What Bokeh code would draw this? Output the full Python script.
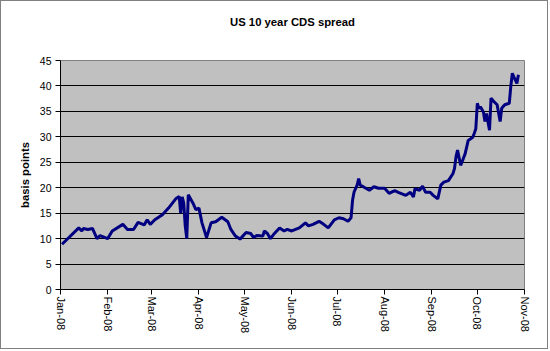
import math
import pandas as pd
from bokeh.plotting import figure
from bokeh.models import FixedTicker, Range1d, Title
from bokeh.embed import file_html
from bokeh.resources import INLINE

dates = [
    "2008-01-02", "2008-01-13", "2008-01-15", "2008-01-16", "2008-01-19", "2008-01-22",
    "2008-01-25", "2008-01-27", "2008-02-01", "2008-02-04", "2008-02-11", "2008-02-14",
    "2008-02-18", "2008-02-21", "2008-02-25", "2008-02-27", "2008-02-29", "2008-03-03",
    "2008-03-08", "2008-03-12", "2008-03-17", "2008-03-19", "2008-03-20", "2008-03-21",
    "2008-03-22", "2008-03-23", "2008-03-24", "2008-03-25", "2008-03-28", "2008-03-30",
    "2008-04-01", "2008-04-03", "2008-04-06", "2008-04-09", "2008-04-12", "2008-04-16",
    "2008-04-20", "2008-04-22", "2008-04-25", "2008-04-28", "2008-05-02", "2008-05-05",
    "2008-05-07", "2008-05-09", "2008-05-13", "2008-05-14", "2008-05-16", "2008-05-18",
    "2008-05-20", "2008-05-24", "2008-05-27", "2008-05-29", "2008-06-01", "2008-06-06",
    "2008-06-10", "2008-06-12", "2008-06-15", "2008-06-19", "2008-06-22", "2008-06-25",
    "2008-06-29", "2008-07-02", "2008-07-05", "2008-07-08", "2008-07-10", "2008-07-11",
    "2008-07-12", "2008-07-14", "2008-07-15", "2008-07-16", "2008-07-18", "2008-07-22",
    "2008-07-25", "2008-07-28", "2008-08-01", "2008-08-04", "2008-08-06", "2008-08-08",
    "2008-08-10", "2008-08-15", "2008-08-18", "2008-08-20", "2008-08-21", "2008-08-24",
    "2008-08-26", "2008-08-28", "2008-08-31", "2008-09-02", "2008-09-05", "2008-09-07",
    "2008-09-09", "2008-09-12", "2008-09-15", "2008-09-16", "2008-09-17", "2008-09-18",
    "2008-09-20", "2008-09-21", "2008-09-23", "2008-09-25", "2008-09-28", "2008-09-29",
    "2008-09-30", "2008-10-01", "2008-10-02", "2008-10-03", "2008-10-05", "2008-10-06",
    "2008-10-07", "2008-10-09", "2008-10-10", "2008-10-12", "2008-10-14", "2008-10-16",
    "2008-10-17", "2008-10-19", "2008-10-22", "2008-10-23", "2008-10-24", "2008-10-25",
    "2008-10-27", "2008-10-28",
]
spread = [
    8.9, 12.1, 11.5, 12.0, 11.8, 12.0,
    10.0, 10.6, 10.0, 11.5, 12.8, 11.8,
    11.8, 13.2, 12.7, 13.7, 12.8, 13.7,
    14.7, 16.0, 17.9, 18.3, 15.0, 18.2,
    17.0, 12.5, 10.0, 18.6, 17.0, 15.7,
    16.0, 13.1, 10.2, 13.1, 13.3, 14.2,
    13.3, 11.8, 10.5, 9.9, 11.2, 11.0,
    10.2, 10.6, 10.5, 11.5, 11.0, 10.0,
    10.8, 12.1, 11.5, 11.8, 11.5, 12.1,
    13.1, 12.5, 12.8, 13.4, 12.8, 12.1,
    13.7, 14.1, 13.9, 13.4, 14.1, 17.6,
    19.2, 20.5, 21.8, 20.5, 20.2, 19.5,
    20.2, 19.9, 19.9, 18.9, 19.2, 19.4,
    19.1, 18.5, 19.1, 18.2, 19.8, 19.5,
    20.3, 19.1, 19.1, 18.5, 17.8, 20.5,
    21.1, 21.4, 22.8, 23.8, 26.1, 27.4,
    24.4, 25.1, 26.7, 29.3, 29.9, 30.7,
    31.6, 36.6, 35.6, 35.9, 34.9, 33.0,
    34.6, 31.3, 37.6, 36.9, 36.3, 33.0,
    35.6, 36.3, 36.6, 39.9, 42.5, 41.8,
    40.5, 42.2,
]
y_ticks = [0, 5, 10, 15, 20, 25, 30, 35, 40, 45]
month_ticks = ["2008-01-01", "2008-02-01", "2008-03-01", "2008-04-01", "2008-05-01",
               "2008-06-01", "2008-07-01", "2008-08-01", "2008-09-01", "2008-10-01",
               "2008-11-01"]
month_labels = ["Jan-08", "Feb-08", "Mar-08", "Apr-08", "May-08", "Jun-08",
                "Jul-08", "Aug-08", "Sep-08", "Oct-08", "Nov-08"]

x = pd.to_datetime(dates)
tick_ms = [int(pd.Timestamp(d).value // 10**6) for d in month_ticks]

FONT = "Liberation Sans"

p = figure(width=548, height=349, x_axis_type="datetime", output_backend="svg",
           toolbar_location=None,
           x_range=Range1d(start=tick_ms[0], end=tick_ms[-1]),
           y_range=Range1d(start=0, end=45),
           min_border_left=59, min_border_right=25, min_border_top=59, min_border_bottom=61)
p.styles = {"border": "1px solid #808080"}
p.title = None

p.line(x, spread, line_color="#000080", line_width=3)

p.background_fill_color = "#C0C0C0"
p.border_fill_color = "white"
p.outline_line_color = "#808080"
p.xgrid.visible = False
p.ygrid.grid_line_color = "black"
p.ygrid.grid_line_width = 1

spacer = Title(text=" ", text_font_size="14px", text_font=FONT)
p.add_layout(spacer, "above")
main_title = Title(text="US 10 year CDS spread", align="center", text_font=FONT,
                   text_font_style="bold", text_font_size="11.3px", text_color="black")
p.add_layout(main_title, "above")

for ax in (p.xaxis[0], p.yaxis[0]):
    ax.axis_line_color = "black"
    ax.major_tick_line_color = "black"
    ax.minor_tick_line_color = None
    ax.major_tick_in = 0
    ax.major_tick_out = 5
    ax.major_label_text_color = "black"
    ax.major_label_text_font = FONT

p.yaxis.ticker = FixedTicker(ticks=y_ticks)
p.yaxis.major_label_text_font_size = "10.5px"
p.yaxis.major_label_standoff = 4
p.yaxis.axis_label = "basis points"
p.yaxis.axis_label_text_font = FONT
p.yaxis.axis_label_text_font_style = "bold"
p.yaxis.axis_label_text_font_size = "11.3px"
p.yaxis.axis_label_text_color = "black"
p.yaxis.axis_label_standoff = 6

p.xaxis.ticker = FixedTicker(ticks=tick_ms)
p.xaxis.major_label_overrides = {t: lbl for t, lbl in zip(tick_ms, month_labels)}
p.xaxis.major_label_orientation = -math.pi / 2
p.xaxis.major_label_text_font_size = "11px"
p.xaxis.major_label_standoff = 2

open("out.html", "w").write(file_html(p, INLINE))
